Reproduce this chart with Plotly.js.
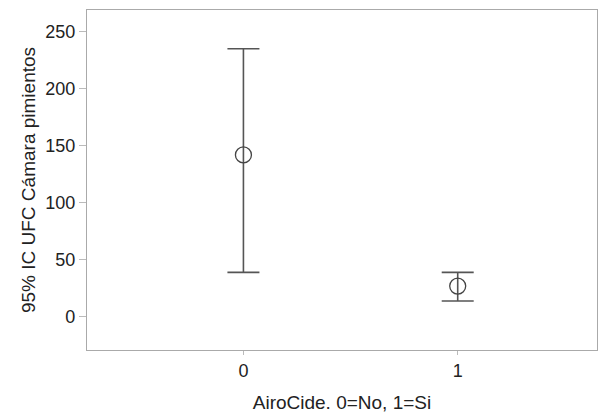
<!DOCTYPE html>
<html>
<head>
<meta charset="utf-8">
<script src="https://cdn.plot.ly/plotly-3.0.1.min.js"></script>
<style>html,body{margin:0;padding:0;background:#fff;}#chart{width:598px;height:416px;}</style>
</head>
<body>
<div id="chart"></div>
<script>
const categories = [0, 1];
const means = [142, 27];
const upper = [235, 39];
const lower = [39, 14];
const xTickLabels = ["0", "1"];
const yTicks = [0, 50, 100, 150, 200, 250];

const trace = {
  x: categories,
  y: means,
  type: "scatter",
  mode: "markers",
  marker: {symbol: "circle-open", size: 16, color: "#444", line: {width: 1.3, color: "#444"}},
  error_y: {
    type: "data",
    symmetric: false,
    array: upper.map((u, i) => u - means[i]),
    arrayminus: means.map((m, i) => m - lower[i]),
    color: "#555",
    thickness: 1.6,
    width: 16
  },
  hoverinfo: "skip"
};

const layout = {
  width: 598, height: 416,
  margin: {l: 87, r: 1, t: 10, b: 66},
  paper_bgcolor: "#fff", plot_bgcolor: "#fff",
  showlegend: false,
  font: {family: "Liberation Sans, Arial, sans-serif", color: "#222"},
  xaxis: {
    range: [-0.73, 1.65],
    tickvals: categories, ticktext: xTickLabels,
    showgrid: false, zeroline: false,
    showline: true, linecolor: "#aaa", linewidth: 1.2, mirror: true,
    ticks: "outside", ticklen: 4, tickcolor: "#bbb",
    tickfont: {size: 18, color: "#222"},
    title: {text: "AiroCide. 0=No, 1=Si", font: {size: 19, color: "#222"}, standoff: 16}
  },
  yaxis: {
    range: [-29, 269],
    tickvals: yTicks,
    showgrid: false, zeroline: false,
    showline: true, linecolor: "#aaa", linewidth: 1.2, mirror: true,
    ticks: "outside", ticklen: 7, tickcolor: "#bbb",
    tickfont: {size: 18, color: "#222"},
    title: {text: "95% IC UFC Cámara pimientos", font: {size: 19, color: "#222"}, standoff: 4}
  }
};

Plotly.newPlot("chart", [trace], layout, {staticPlot: true, displayModeBar: false});
</script>
</body>
</html>
